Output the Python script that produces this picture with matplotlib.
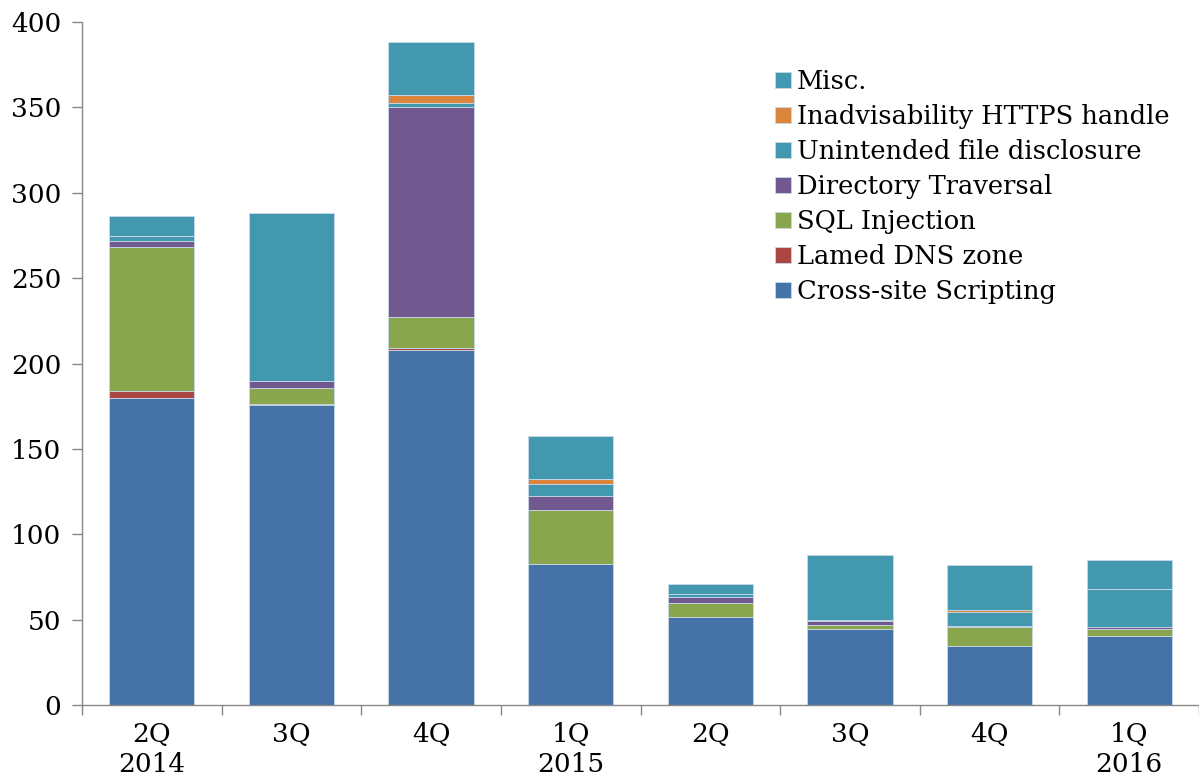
import matplotlib
matplotlib.use("Agg")
import matplotlib.pyplot as plt
import numpy as np

plt.rcParams['font.family'] = ['DejaVu Serif']

categories = ["2Q\n2014", "3Q", "4Q", "1Q\n2015", "2Q", "3Q", "4Q", "1Q\n2016"]
series_names = ["Cross-site Scripting", "Lamed DNS zone", "SQL Injection",
                "Directory Traversal", "Unintended file disclosure",
                "Inadvisability HTTPS handle", "Misc."]
xss = [180, 175.5, 208, 82.5, 51.7, 44.7, 34.6, 40.6]
lamed = [4, 1, 1.3, 0, 0, 0, 0, 0]
sql = [84, 9, 18, 32, 8, 2, 11.1, 4.1]
dir_trav = [4, 4, 122.8, 8, 3.8, 2.3, 0.7, 0.8]
unintended = [2.7, 0, 2.7, 7, 1.4, 0.6, 8.2, 22.3]
https = [0, 0, 4.4, 3, 0, 0, 1.1, 0]
misc = [11.7, 98.5, 31, 25, 6, 38.1, 26.2, 16.9]
series = [xss, lamed, sql, dir_trav, unintended, https, misc]
colors = ["#4572A7", "#AA4643", "#89A54E", "#71588F", "#4198AF", "#DB843D", "#4198AF"]

fig = plt.figure(figsize=(11.99, 7.81), dpi=100)
ax = fig.add_axes([0.0684, 0.0973, 0.9316, 0.8745])

x = np.arange(len(categories))
bottom = np.zeros(len(categories))
handles = []
for name, vals, c in zip(series_names, series, colors):
    vals = np.array(vals, dtype=float)
    b = ax.bar(x, vals, 0.61, bottom=bottom, color=c, edgecolor="#c9d9e6",
               linewidth=0.6, label=name)
    handles.append(b)
    bottom += vals

ax.set_xlim(-0.5, 7.5)
ax.set_ylim(0, 400)
ax.set_yticks(np.arange(0, 401, 50))
ax.set_xticks(x)
ax.set_xticklabels(categories, linespacing=1.25)
ax.set_xticks(np.arange(-0.5, 7.6, 1), minor=True)
ax.tick_params(axis='x', which='major', length=0, pad=12, labelsize=19)
ax.tick_params(axis='x', which='minor', length=7, width=1, color="#888888", direction='out')
ax.tick_params(axis='y', length=7, width=1, color="#888888", labelsize=19, pad=8)
for s in ["top", "right"]:
    ax.spines[s].set_visible(False)
for s in ["left", "bottom"]:
    ax.spines[s].set_color("#888888")
    ax.spines[s].set_linewidth(1)

leg = fig.legend(handles[::-1], series_names[::-1], loc="upper left",
                 bbox_to_anchor=(0.638, 0.925), frameon=False, fontsize=18.5,
                 handlelength=0.6, handleheight=0.6, handletextpad=0.25,
                 labelspacing=0.39, borderaxespad=0)

fig.savefig("out.png", dpi=100)
